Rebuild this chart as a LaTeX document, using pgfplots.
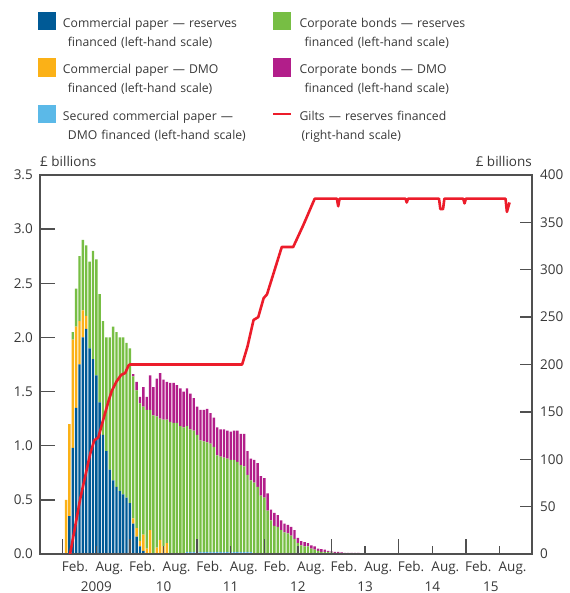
\documentclass[border=0pt]{standalone}
\usepackage{pgfplots}
\pgfplotsset{compat=1.18}
\usepackage{pgfplotstable}
\usepackage{fontspec}
\setmainfont{Open Sans}
\definecolor{cpres}{HTML}{005A96}
\definecolor{cpdmo}{HTML}{FBB117}
\definecolor{scp}{HTML}{5BB9E8}
\definecolor{cbres}{HTML}{77BE44}
\definecolor{cbdmo}{HTML}{B21E8A}
\definecolor{giltred}{HTML}{EC1C2A}
\definecolor{axisgray}{HTML}{505050}
\definecolor{textgray}{HTML}{383838}

\pgfplotstableread{
x b o l g p
2009.05 0 0.5 0 0 0
2009.10 0.35 0.85 0 0 0
2009.15 0.98 1.0 0 0.07 0
2009.20 1.35 0.75 0 0.35 0
2009.25 1.75 0.4 0 0.6 0
2009.30 2.0 0.25 0 0.65 0
2009.35 2.08 0.12 0 0.65 0
2009.40 1.9 0 0 0.8 0
2009.45 1.8 0 0 1.0 0
2009.50 1.65 0 0 1.07 0
2009.55 1.4 0 0 1.0 0
2009.60 1.1 0 0 1.05 0
2009.65 0.95 0 0 1.05 0
2009.70 0.78 0 0 1.22 0
2009.75 0.68 0 0 1.42 0
2009.80 0.62 0 0 1.43 0
2009.85 0.58 0 0 1.42 0
2009.90 0.55 0 0 1.45 0
2009.95 0.52 0 0 1.43 0
2010.00 0.47 0 0 1.43 0
2010.05 0.28 0.05 0 1.31 0.02
2010.10 0.16 0.08 0 1.27 0.08
2010.15 0.07 0.05 0 1.27 0.06
2010.20 0.03 0.15 0 1.18 0.18
2010.25 0 0.05 0 1.28 0.12
2010.30 0 0.22 0 1.11 0.32
2010.35 0 0 0 1.28 0.26
2010.40 0 0.06 0 1.21 0.35
2010.45 0 0.13 0 1.12 0.42
2010.50 0 0.07 0 1.17 0.37
2010.55 0 0.1 0 1.14 0.35
2010.60 0 0 0 1.22 0.36
2010.65 0 0 0 1.21 0.37
2010.70 0 0 0 1.21 0.35
2010.75 0 0 0 1.18 0.35
2010.80 0 0 0 1.17 0.33
2010.85 0 0 0.02 1.16 0.35
2010.90 0 0 0.02 1.13 0.33
2010.95 0 0 0.02 1.12 0.30
2011.00 0 0 0.02 1.08 0.26
2011.05 0 0 0.02 1.03 0.28
2011.10 0 0 0.02 1.02 0.29
2011.15 0 0 0.02 1.01 0.31
2011.20 0 0 0.02 1.00 0.28
2011.25 0 0 0.02 0.97 0.27
2011.30 0 0 0.02 0.89 0.26
2011.35 0 0 0.02 0.88 0.25
2011.40 0 0 0.02 0.87 0.26
2011.45 0 0 0.02 0.86 0.26
2011.50 0 0 0.02 0.85 0.26
2011.55 0 0 0.02 0.85 0.27
2011.60 0 0 0.02 0.83 0.29
2011.65 0 0 0.02 0.80 0.29
2011.70 0 0 0.02 0.79 0.30
2011.75 0 0 0.02 0.71 0.22
2011.80 0 0 0.02 0.66 0.20
2011.85 0 0 0 0.66 0.21
2011.90 0 0 0 0.62 0.22
2011.95 0 0 0 0.54 0.18
2012.00 0 0 0 0.52 0.18
2012.05 0 0 0 0.40 0.16
2012.10 0 0 0 0.31 0.10
2012.15 0 0 0 0.26 0.12
2012.20 0 0 0 0.25 0.11
2012.25 0 0 0 0.22 0.09
2012.30 0 0 0 0.20 0.08
2012.35 0 0 0 0.19 0.08
2012.40 0 0 0 0.17 0.08
2012.45 0 0 0 0.14 0.08
2012.50 0 0 0 0.10 0.05
2012.55 0 0 0 0.08 0.04
2012.60 0 0 0 0.07 0.04
2012.65 0 0 0 0.07 0.03
2012.70 0 0 0 0.05 0.03
2012.75 0 0 0 0.04 0.03
2012.80 0 0 0 0.03 0.02
2012.85 0 0 0 0.02 0.025
2012.90 0 0 0 0.02 0.02
2012.95 0 0 0 0.02 0.01
2013.00 0 0 0 0.015 0.01
2013.05 0 0 0 0.01 0.01
2013.10 0 0 0 0.01 0.01
2013.15 0 0 0 0.005 0.01
2013.20 0 0 0 0 0.01
2013.25 0 0 0 0 0.01
2013.30 0 0 0 0 0.01
2013.35 0 0 0 0 0.01
2013.40 0 0 0 0 0.01
}\bars

\pgfplotstableread{
x v
2009.11 0
2009.26 58
2009.41 106
2009.47 120
2009.53 123
2009.60 141
2009.68 161
2009.73 172
2009.80 182
2009.87 189
2009.93 191
2009.98 199
2010.00 200
2011.67 200
2011.75 219
2011.84 247
2011.91 250
2011.99 270
2012.04 274
2012.26 324
2012.43 324
2012.58 347
2012.75 375
2013.08 375
2013.10 367
2013.12 375
2014.10 375
2014.12 371
2014.14 375
2014.60 375
2014.62 364
2014.66 364
2014.68 375
2014.96 375
2014.98 370
2015.00 375
2015.59 375
2015.61 361
2015.65 371
}\gilts

\tikzset{axisfont/.style={font=\fontsize{13.5pt}{16pt}\selectfont, text=textgray}}
\pgfplotsset{
  swatch/.style={draw=none, fill=#1,
    legend image code/.code={\fill[#1] (0pt,6pt) rectangle (18pt,-12.5pt);}},
  giltleg/.style={legend image code/.code={\draw[giltred, line width=2.6pt] (0pt,-3pt) -- (18pt,-3pt);}},
}

\begin{document}
\begin{tikzpicture}
\useasboundingbox (-40pt,-39pt) rectangle (529pt,554pt);
\begin{axis}[
  at={(0pt,0pt)}, anchor=south west,
  scale only axis, width=492pt, height=379pt,
  xmin=2008.662, xmax=2015.984, ymin=0, ymax=3.5,
  clip=false,
  ybar stacked, bar width=2.4pt,
  axis on top,
  axis line style={draw=axisgray, line width=1.3pt},
  tick style={draw=axisgray, line width=1.3pt},
  tick align=inside,
  major tick length=15pt,
  xtick pos=left, ytick pos=left,
  xtick={2009,2010,2011,2012,2013,2014,2015},
  xticklabels={Feb.,Feb.,Feb.,Feb.,Feb.,Feb.,Feb.},
  extra x ticks={2009.5,2010.5,2011.5,2012.5,2013.5,2014.5,2015.5},
  extra x tick labels={Aug.,Aug.,Aug.,Aug.,Aug.,Aug.,Aug.},
  extra x tick style={major tick length=8pt},
  xticklabel style={axisfont, anchor=base west, inner sep=0pt, xshift=-1pt, yshift=-17.5pt},
  ytick={0,0.5,1,1.5,2,2.5,3,3.5},
  yticklabels={0.0,0.5,1.0,1.5,2.0,2.5,3.0,3.5},
  yticklabel style={axisfont, anchor=east, inner sep=0pt, xshift=-7pt},
  legend columns=3, transpose legend,
  legend style={draw=none, fill=none, inner sep=0pt, outer sep=0pt,
    at={(axis description cs:-0.00407,1.4301)}, anchor=north west,
    row sep=28pt,
    font=\fontsize{12.2pt}{19pt}\selectfont, text=textgray,
    cells={anchor=north west},
    nodes={align=left, text width=200pt, inner sep=0pt},
    /tikz/every odd column/.append style={column sep=7pt},
    /tikz/every even column/.append style={column sep=9pt}},
]
\addplot[swatch=cpres] table[x=x,y=b]{\bars};
\addlegendentry{Commercial paper — reserves\\\hspace*{5pt}financed (left-hand scale)}
\addplot[swatch=cpdmo] table[x=x,y=o]{\bars};
\addlegendentry{Commercial paper — DMO\\\hspace*{5pt}financed (left-hand scale)}
\addplot[swatch=scp] table[x=x,y=l]{\bars};
\addlegendentry{Secured commercial paper —\\\hspace*{5pt}DMO financed (left-hand scale)}
\addplot[swatch=cbres] table[x=x,y=g]{\bars};
\addlegendentry{Corporate bonds — reserves\\\hspace*{5pt}financed (left-hand scale)}
\addplot[swatch=cbdmo] table[x=x,y=p]{\bars};
\addlegendentry{Corporate bonds — DMO\\\hspace*{5pt}financed (left-hand scale)}
\addlegendimage{giltleg}
\addlegendentry{Gilts — reserves financed\\\hspace*{2pt}(right-hand scale)}
\node[axisfont, anchor=base west, inner sep=0pt] at (rel axis cs:0,1) [yshift=8pt] {£ billions};
\node[axisfont, anchor=base east, inner sep=0pt] at (rel axis cs:1,1) [yshift=8pt] {£ billions};
\node[axisfont, anchor=base, inner sep=0pt] at (axis cs:2009.5,0) [yshift=-37pt] {2009};
\node[axisfont, anchor=base, inner sep=0pt] at (axis cs:2010.5,0) [yshift=-37pt] {10};
\node[axisfont, anchor=base, inner sep=0pt] at (axis cs:2011.5,0) [yshift=-37pt] {11};
\node[axisfont, anchor=base, inner sep=0pt] at (axis cs:2012.5,0) [yshift=-37pt] {12};
\node[axisfont, anchor=base, inner sep=0pt] at (axis cs:2013.5,0) [yshift=-37pt] {13};
\node[axisfont, anchor=base, inner sep=0pt] at (axis cs:2014.5,0) [yshift=-37pt] {14};
\node[axisfont, anchor=base, inner sep=0pt] at (axis cs:2015.37,0) [yshift=-37pt] {15};
\end{axis}
\begin{axis}[
  at={(0pt,0pt)}, anchor=south west,
  scale only axis, width=492pt, height=379pt,
  xmin=2008.662, xmax=2015.984, ymin=0, ymax=400,
  axis x line=none, axis y line*=right,
  axis line style={draw=axisgray, line width=1.3pt},
  tick style={draw=axisgray, line width=1.3pt},
  tick align=inside, major tick length=12pt,
  ytick={0,50,100,150,200,250,300,350,400},
  yticklabels={0,50,100,150,200,250,300,350,400},
  yticklabel style={axisfont, anchor=west, inner sep=0pt, xshift=8pt},
]
\addplot[giltred, line width=2.6pt, line join=round, mark=none] table[x=x,y=v]{\gilts};
\end{axis}
\end{tikzpicture}
\end{document}
